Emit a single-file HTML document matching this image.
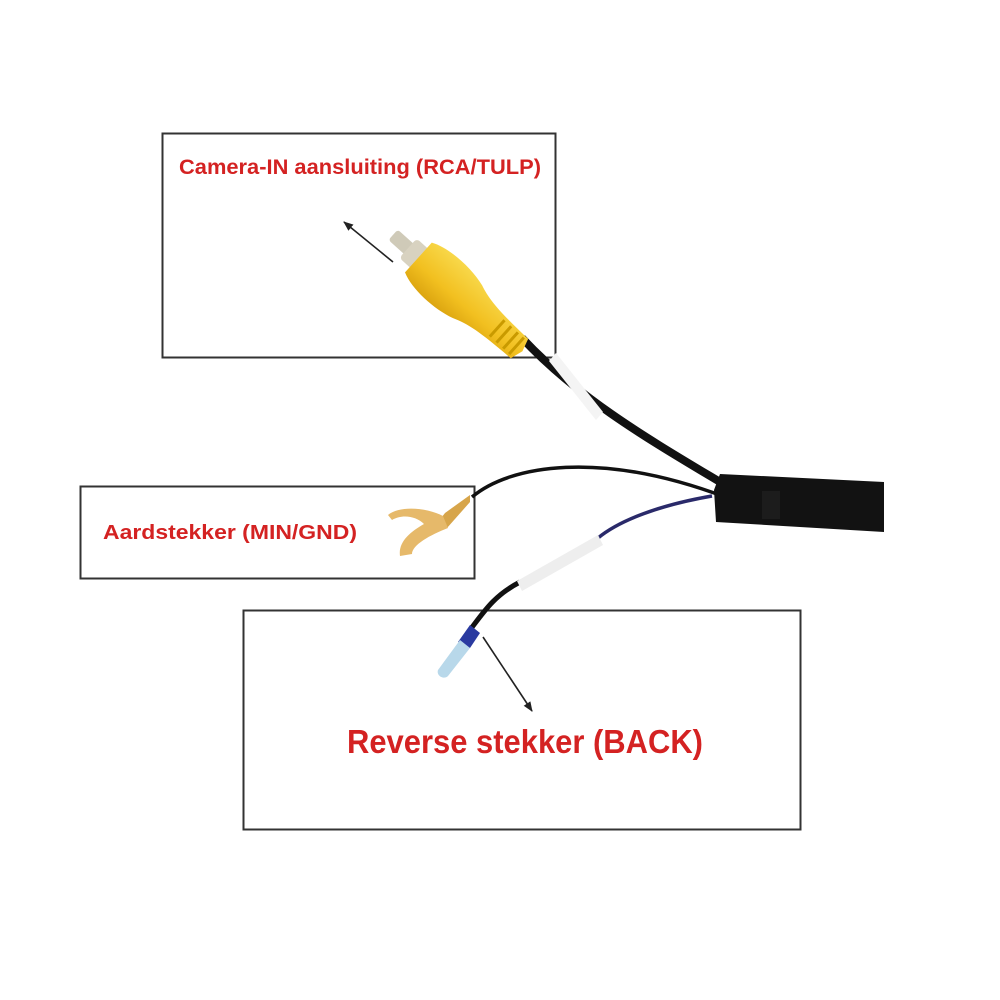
<!DOCTYPE html>
<html><head><meta charset="utf-8"><style>
html,body{margin:0;padding:0;background:#fff;}
svg{display:block;}
text{font-family:"Liberation Sans",sans-serif;font-weight:bold;fill:#d42222;}
</style></head><body>
<svg width="1000" height="1000" viewBox="0 0 1000 1000" xmlns="http://www.w3.org/2000/svg">
<defs>
<marker id="ah" markerWidth="10" markerHeight="8" refX="9" refY="4" orient="auto" markerUnits="userSpaceOnUse">
<path d="M0,0 L10,4 L0,8 z" fill="#222"/></marker>
<linearGradient id="yel" x1="0" y1="0" x2="0" y2="1"><stop offset="0" stop-color="#f8d84a"/><stop offset="0.6" stop-color="#f2c020"/><stop offset="1" stop-color="#dca510"/></linearGradient>
</defs>
<rect width="1000" height="1000" fill="#fff"/>
<rect x="162.5" y="133.5" width="393" height="224" fill="none" stroke="#333" stroke-width="2"/>
<rect x="80.5" y="486.5" width="394" height="92" fill="none" stroke="#333" stroke-width="2"/>
<rect x="243.5" y="610.5" width="557" height="219" fill="none" stroke="#333" stroke-width="2"/>

<path d="M522,338 C580,400 650,440 725,485" stroke="#111" stroke-width="8" fill="none"/>
<path d="M472,497 C510,465 600,450 725,497" stroke="#111" stroke-width="3.5" fill="none"/>
<path d="M712,496 C660,505 620,520 598,538" stroke="#2a2a6a" stroke-width="3.5" fill="none"/>
<path d="M520,582 C495,595 485,610 470,630" stroke="#111" stroke-width="5" fill="none"/>
<polygon points="549,361 556,353 603,412 596,420" fill="#f4f4f4"/>
<polygon points="517,581 598,535 603,545 522,591" fill="#eeeeee"/>
<polygon points="720,474 884,482 884,532 716,522 714,490" fill="#121212"/>
<rect x="762" y="491" width="18" height="28" fill="#1c1c1c"/>
<!-- RCA plug, axis along 42deg -->
<g transform="translate(460,295) rotate(42)">
<rect x="-90" y="-7" width="24" height="14" rx="3" fill="#cfcab8"/>
<rect x="-70" y="-13" width="18" height="26" rx="4" fill="#d8d2c0"/>
<path d="M-56,-20 C-40,-28 -10,-28 10,-22 C25,-16 40,-14 80,-13 L84,0 L80,13 C40,14 25,16 10,22 C-10,28 -40,28 -56,20 Z" fill="url(#yel)"/>
<g stroke="#c99a00" stroke-width="3"><line x1="50" y1="-11" x2="50" y2="11"/><line x1="59" y1="-11" x2="59" y2="11"/><line x1="68" y1="-11" x2="68" y2="11"/><line x1="76" y1="-11" x2="76" y2="11"/></g>
</g>
<!-- fork -->
<path d="M470,495 L445,513 L438,522 L447,528 L470,502 Z" fill="#d7a54a"/>
<path d="M443,516 C428,508 400,505 388,515 L392,520 C402,514 416,516 424,524 C410,532 398,542 400,556 L412,554 C412,545 430,535 448,528 Z" fill="#e6b96a"/>
<!-- blue pin -->
<path d="M470,625 L480,633 L470,648 L458,642 Z" fill="#2a3aa0"/>
<path d="M460,640 L470,648 L448,676 C444,680 436,676 438,670 Z" fill="#b8d8ea"/>
<line x1="393" y1="262" x2="344" y2="222" stroke="#222" stroke-width="1.6" marker-end="url(#ah)"/>
<line x1="483" y1="637" x2="532" y2="711" stroke="#222" stroke-width="1.6" marker-end="url(#ah)"/>
<text x="179" y="174" font-size="21" textLength="362" lengthAdjust="spacingAndGlyphs">Camera-IN aansluiting  (RCA/TULP)</text>
<text x="103" y="539" font-size="20" textLength="254" lengthAdjust="spacingAndGlyphs">Aardstekker (MIN/GND)</text>
<text x="347" y="753" font-size="33" textLength="356" lengthAdjust="spacingAndGlyphs">Reverse stekker (BACK)</text>
</svg>
</body></html>
